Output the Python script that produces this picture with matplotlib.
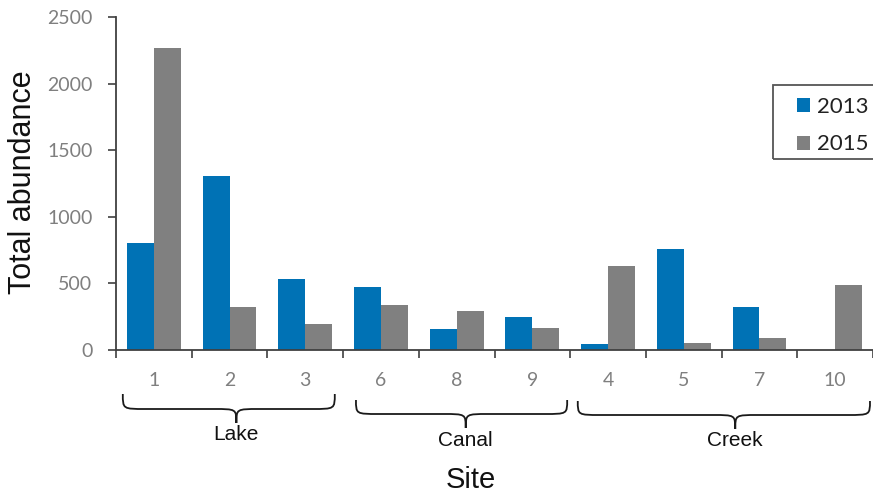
import matplotlib
matplotlib.use("Agg")
import matplotlib.pyplot as plt
from matplotlib.path import Path
from matplotlib.patches import PathPatch, Patch, Rectangle
import matplotlib.transforms as mtransforms
import numpy as np

sites = ["1", "2", "3", "6", "8", "9", "4", "5", "7", "10"]
abund_2013 = [800, 1310, 530, 475, 158, 250, 48, 760, 325, 0]
abund_2015 = [2270, 320, 192, 338, 293, 168, 628, 55, 88, 490]
groups = ["Lake", "Canal", "Creek"]
series_names = ["2013", "2015"]

BLUE = "#0072B5"
GRAY = "#808080"
TICKGRAY = "#7F7F7F"

W, H = 873, 495
fig = plt.figure(figsize=(W / 100, H / 100), dpi=100)
ax = fig.add_axes([116 / W, 145 / H, 757 / W, 333 / H])

x = np.arange(len(sites))
bw = 0.356
ax.bar(x - bw / 2, abund_2013, width=bw, color=BLUE, label=series_names[0], zorder=2)
ax.bar(x + bw / 2, abund_2015, width=bw, color=GRAY, label=series_names[1], zorder=2)

ax.set_xlim(-0.5, len(sites) - 0.5)
ax.set_ylim(0, 2500)
ax.set_yticks([0, 500, 1000, 1500, 2000, 2500])

for s in ["top", "right"]:
    ax.spines[s].set_visible(False)
for s in ["left", "bottom"]:
    ax.spines[s].set_color("#404040")
    ax.spines[s].set_linewidth(1.3)

ax.tick_params(axis="y", direction="out", length=6, width=1.2, color="#404040",
               labelsize=14, labelcolor=TICKGRAY, pad=11)
for lab in ax.get_yticklabels():
    lab.set_fontfamily("Lato")

# category boundaries as major ticks, site labels as minor ticks
ax.set_xticks(np.arange(-0.5, len(sites), 1.0))
ax.set_xticklabels([])
ax.tick_params(axis="x", which="major", direction="out", length=6, width=1.2, color="#404040")
ax.set_xticks(x, minor=True)
ax.set_xticklabels(sites, minor=True)
ax.tick_params(axis="x", which="minor", length=0, labelsize=14, labelcolor=TICKGRAY, pad=16)
for lab in ax.get_xticklabels(minor=True):
    lab.set_fontfamily("Lato")

ax.set_ylabel("Total abundance", fontsize=22, family="Liberation Sans", color="#111111")
ax.yaxis.set_label_coords((23 - 116) / 757, (350 - 182) / 333)
ax.yaxis.label.set_va("center")
fig.text(471 / W, 1 - 480 / H, "Site", fontsize=21, family="Liberation Sans",
         color="#111111", ha="center", va="center")

# braces (x in data units, y in figure fraction)
trans = mtransforms.blended_transform_factory(ax.transData, fig.transFigure)
def fy(p):
    return 1 - p / H

# (left end, right end, tip x, top y px, mid y px, tip y px, label y px)
brace_specs = [(-0.41, 2.39, 1.09, 394, 409, 423, 435),
               (2.67, 5.46, 4.12, 400, 414, 428, 440),
               (5.60, 9.46, 7.68, 401, 415, 429, 441)]
r = 0.3
for (x0, x1, xt, yt, ym, yp, yl), name in zip(brace_specs, groups):
    y_top, y_mid, y_tip = fy(yt), fy(ym), fy(yp)
    verts = [
        (x0, y_top),
        (x0, y_mid), (x0, y_mid), (x0 + r, y_mid),
        (xt - r, y_mid),
        (xt, y_mid), (xt, y_mid), (xt, y_tip),
        (xt, y_mid), (xt, y_mid), (xt + r, y_mid),
        (x1 - r, y_mid),
        (x1, y_mid), (x1, y_mid), (x1, y_top),
    ]
    codes = [Path.MOVETO,
             Path.CURVE4, Path.CURVE4, Path.CURVE4,
             Path.LINETO,
             Path.CURVE4, Path.CURVE4, Path.CURVE4,
             Path.CURVE4, Path.CURVE4, Path.CURVE4,
             Path.LINETO,
             Path.CURVE4, Path.CURVE4, Path.CURVE4]
    patch = PathPatch(Path(verts, codes), transform=trans, fill=False,
                      edgecolor="#1a1a1a", linewidth=1.3, clip_on=False)
    fig.add_artist(patch)
    fig.text(xt, fy(yl), name, transform=trans, fontsize=15, family="Liberation Sans",
             color="#111111", ha="center", va="center")

# legend box (extends past the right edge like the reference)
fig.add_artist(Rectangle((773 / W, 1 - 159 / H), 120 / W, 74 / H, transform=fig.transFigure,
                         fill=False, edgecolor="#555555", linewidth=1.3, clip_on=False))
handles = [Patch(facecolor=BLUE, label=series_names[0]), Patch(facecolor=GRAY, label=series_names[1])]
leg = fig.legend(handles=handles, loc="upper left", bbox_to_anchor=(790 / W, 1 - 90 / H),
                 prop={"family": "Lato", "size": 16}, frameon=False,
                 handlelength=0.6, handleheight=0.6, handletextpad=0.3, labelspacing=0.8,
                 borderpad=0.3, borderaxespad=0)
for t in leg.get_texts():
    t.set_color("#222222")

fig.savefig("out.png", dpi=100)
